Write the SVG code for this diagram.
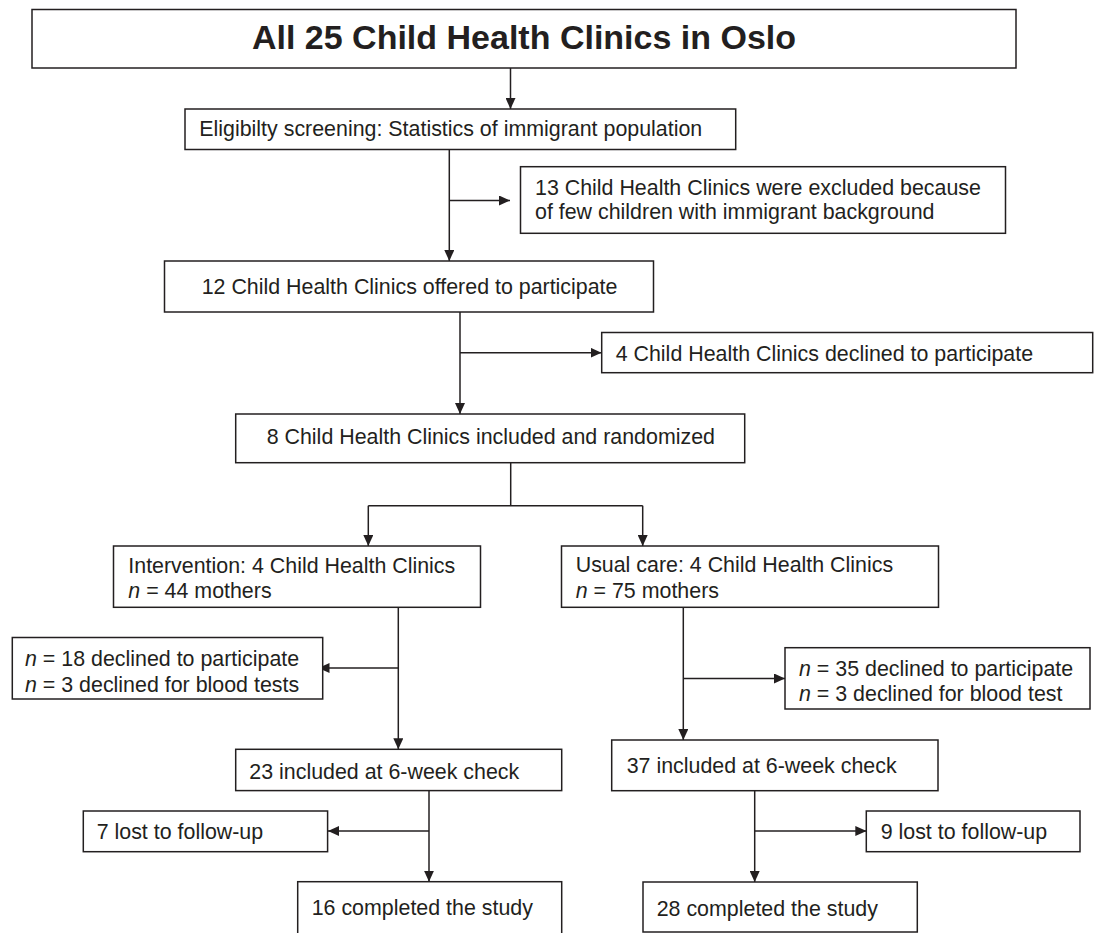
<svg xmlns="http://www.w3.org/2000/svg" width="1094" height="933" viewBox="0 0 1094 933">
<style>
  .box { fill: #ffffff; stroke: #231f20; stroke-width: 1.5; }
  .t { font-family: "Liberation Sans", Arial, sans-serif; font-size: 21.4px; fill: #231f20; }
  .title { font-family: "Liberation Sans", Arial, sans-serif; font-size: 34px; font-weight: bold; fill: #231f20; }
  .c { fill: none; stroke: #231f20; stroke-width: 1.5; }
  .a { fill: none; stroke: #231f20; stroke-width: 1.5; marker-end: url(#arr); }
  .i { font-style: italic; }
</style>
<defs>
  <marker id="arr" markerUnits="userSpaceOnUse" markerWidth="11" markerHeight="10" refX="11" refY="5" orient="auto">
    <path d="M0,0 L11,5 L0,10 Z" fill="#231f20"/>
  </marker>
</defs>
<rect width="1094" height="933" fill="#ffffff"/>

<g id="connectors">
  <line class="a" x1="510.5" y1="68" x2="510.5" y2="109"/>
  <line class="a" x1="449.3" y1="149.5" x2="449.3" y2="261"/>
  <line class="a" x1="449.3" y1="200.5" x2="510" y2="200.5"/>
  <line class="a" x1="460" y1="312" x2="460" y2="414"/>
  <line class="a" x1="460" y1="352.7" x2="601.5" y2="352.7"/>
  <polyline class="c" points="510.7,462.7 510.7,505.7"/>
  <polyline class="c" points="368.3,505.7 642.7,505.7"/>
  <line class="a" x1="368.3" y1="505.7" x2="368.3" y2="546"/>
  <line class="a" x1="642.7" y1="505.7" x2="642.7" y2="546"/>
  <line class="a" x1="398.3" y1="607.3" x2="398.3" y2="749.3"/>
  <line class="a" x1="398.3" y1="668" x2="318.5" y2="668"/>
  <line class="a" x1="683.3" y1="607.3" x2="683.3" y2="740"/>
  <line class="a" x1="683.3" y1="678.5" x2="785" y2="678.5"/>
  <line class="a" x1="429" y1="790.7" x2="429" y2="881.7"/>
  <line class="a" x1="429" y1="831" x2="328" y2="831"/>
  <line class="a" x1="754.7" y1="790.7" x2="754.7" y2="882"/>
  <line class="a" x1="754.7" y1="831" x2="866.3" y2="831"/>
</g>

<g id="n-all">
  <rect class="box" x="32" y="9.5" width="984" height="58.5"/>
  <text class="title" x="524" y="49.3" text-anchor="middle">All 25 Child Health Clinics in Oslo</text>
</g>
<g id="n-eligibility">
  <rect class="box" x="185" y="109" width="550.7" height="40.5"/>
  <text class="t" x="199.3" y="136.3">Eligibilty screening: Statistics of immigrant population</text>
</g>
<g id="n-excluded">
  <rect class="box" x="520.5" y="166.7" width="485" height="66.6"/>
  <text class="t" x="535" y="195">13 Child Health Clinics were excluded because</text>
  <text class="t" x="535" y="219.3">of few children with immigrant background</text>
</g>
<g id="n-offered">
  <rect class="box" x="164.5" y="261" width="489" height="51"/>
  <text class="t" x="201.7" y="294">12 Child Health Clinics offered to participate</text>
</g>
<g id="n-declined">
  <rect class="box" x="601.7" y="332.5" width="491" height="40.2"/>
  <text class="t" x="615.7" y="360.5">4 Child Health Clinics declined to participate</text>
</g>
<g id="n-randomized">
  <rect class="box" x="235.7" y="414" width="509" height="48.7"/>
  <text class="t" x="266.7" y="444.3">8 Child Health Clinics included and randomized</text>
</g>
<g id="n-intervention">
  <rect class="box" x="113.5" y="546" width="367" height="61.3"/>
  <text class="t" x="128.3" y="572.5">Intervention: 4 Child Health Clinics</text>
  <text class="t" x="128.3" y="598"><tspan class="i">n</tspan> = 44 mothers</text>
</g>
<g id="n-usual">
  <rect class="box" x="561.5" y="546" width="377" height="61.3"/>
  <text class="t" x="575.7" y="572">Usual care: 4 Child Health Clinics</text>
  <text class="t" x="575.7" y="597.5"><tspan class="i">n</tspan> = 75 mothers</text>
</g>
<g id="n-int-declined">
  <rect class="box" x="12.3" y="637.5" width="310.4" height="61.5"/>
  <text class="t" x="25" y="666"><tspan class="i">n</tspan> = 18 declined to participate</text>
  <text class="t" x="25" y="692"><tspan class="i">n</tspan> = 3 declined for blood tests</text>
</g>
<g id="n-usual-declined">
  <rect class="box" x="785" y="647.7" width="305" height="61.3"/>
  <text class="t" x="799" y="675.5"><tspan class="i">n</tspan> = 35 declined to participate</text>
  <text class="t" x="799" y="700.5"><tspan class="i">n</tspan> = 3 declined for blood test</text>
</g>
<g id="n-int-included">
  <rect class="box" x="235.7" y="749.3" width="326" height="41.3"/>
  <text class="t" x="249.3" y="778.5">23 included at 6-week check</text>
</g>
<g id="n-usual-included">
  <rect class="box" x="611.7" y="740" width="326.3" height="50.7"/>
  <text class="t" x="626.7" y="773">37 included at 6-week check</text>
</g>
<g id="n-int-lost">
  <rect class="box" x="83.3" y="811" width="244.3" height="40.7"/>
  <text class="t" x="96.7" y="838.5">7 lost to follow-up</text>
</g>
<g id="n-usual-lost">
  <rect class="box" x="866.3" y="811" width="213.7" height="40.7"/>
  <text class="t" x="880.7" y="838.5">9 lost to follow-up</text>
</g>
<g id="n-int-completed">
  <rect class="box" x="297.7" y="881.7" width="264" height="60"/>
  <text class="t" x="311.7" y="915">16 completed the study</text>
</g>
<g id="n-usual-completed">
  <rect class="box" x="643" y="882" width="274.3" height="50"/>
  <text class="t" x="656.7" y="915.5">28 completed the study</text>
</g>
</svg>
